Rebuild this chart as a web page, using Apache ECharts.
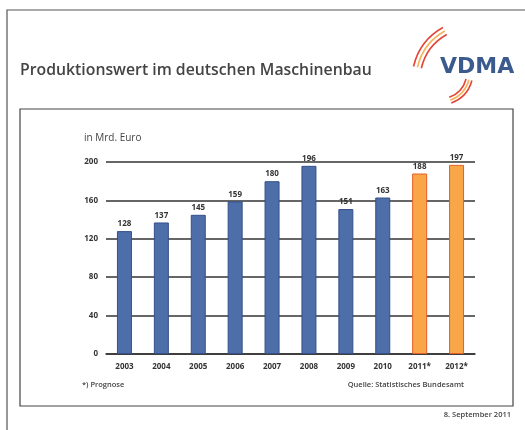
<!DOCTYPE html>
<html>
<head>
<meta charset="utf-8">
<script src="https://cdn.jsdelivr.net/npm/echarts@6/dist/echarts.min.js"></script>
<style>
  html, body { margin: 0; padding: 0; background: #fff; }
  #chart { width: 525px; height: 430px; }
</style>
</head>
<body>
<div id="chart"></div>
<script>
// Daten: Produktionswert in Mrd. Euro
const years = ['2003', '2004', '2005', '2006', '2007', '2008', '2009', '2010', '2011*', '2012*'];
const values = [128, 137, 145, 159, 180, 196, 151, 163, 188, 197];
const forecast = ['2011*', '2012*'];
const yTicks = [0, 40, 80, 120, 160, 200];

const blueBar = { color: '#4d6ea8', borderColor: '#34508a', borderWidth: 1 };
const orangeBar = { color: '#f9a649', borderColor: '#e65f28', borderWidth: 1 };

const chart = echarts.init(document.getElementById('chart'));

// Logo-Bögen (VDMA)
function arc(cx, cy, r, a0, a1, color) {
  return {
    type: 'arc',
    shape: { cx: cx, cy: cy, r: r, startAngle: a0 * Math.PI / 180, endAngle: a1 * Math.PI / 180, clockwise: true },
    style: { stroke: color, fill: null, lineWidth: 1.6 },
    silent: true
  };
}

const option = {
  animation: false,
  grid: { left: 106, right: 50, top: 162, bottom: 76, containLabel: false },
  xAxis: {
    type: 'category',
    data: years,
    axisLine: { show: true, lineStyle: { color: '#333', width: 1.5 } },
    axisTick: { show: false },
    axisLabel: { margin: 9, fontFamily: 'Open Sans', fontWeight: 'bold', fontSize: 8, color: '#333' }
  },
  yAxis: {
    type: 'value',
    min: yTicks[0],
    max: yTicks[yTicks.length - 1],
    interval: yTicks[1] - yTicks[0],
    axisLine: { show: false },
    axisTick: { show: false },
    axisLabel: { margin: 8, fontFamily: 'Open Sans', fontWeight: 'bold', fontSize: 8, color: '#333' },
    splitLine: { lineStyle: { color: '#333', width: 1.5 } }
  },
  series: [{
    type: 'bar',
    barWidth: 15,
    data: values.map((v, i) => ({
      value: v,
      itemStyle: forecast.includes(years[i]) ? orangeBar : blueBar
    })),
    label: {
      show: true,
      position: 'top',
      distance: 3,
      fontFamily: 'Open Sans',
      fontWeight: 'bold',
      fontSize: 8,
      color: '#333'
    }
  }],
  graphic: [
    // äußerer Rahmen
    { type: 'rect', shape: { x: 7, y: 10, width: 530, height: 440 }, style: { fill: null, stroke: '#555', lineWidth: 1.2 }, silent: true },
    // innerer Rahmen
    { type: 'rect', shape: { x: 20, y: 109, width: 493, height: 297 }, style: { fill: null, stroke: '#444', lineWidth: 1.2 }, silent: true },
    {
      type: 'text', left: 20, top: 62,
      style: { text: 'Produktionswert im deutschen Maschinenbau', font: '600 15.8px "Open Sans"', fill: '#444' }
    },
    {
      type: 'text', left: 440, top: 56,
      style: { text: 'VDMA', font: 'bold 22px "DejaVu Sans"', fill: '#3b5b8f' }
    },
    arc(472, 80, 52, 193, 241, '#e2453a'),
    arc(472, 80, 56, 193, 241, '#f6b45a'),
    arc(472, 80, 60, 193, 241, '#e2453a'),
    arc(440, 72, 27, 15, 70, '#e2453a'),
    arc(440, 72, 30, 15, 70, '#f6b45a'),
    arc(440, 72, 33, 15, 70, '#e2453a'),
    {
      type: 'text', left: 84, top: 133,
      style: { text: 'in Mrd. Euro', font: '10px "Open Sans"', fill: '#444' }
    },
    {
      type: 'text', left: 82, top: 381,
      style: { text: '*) Prognose', font: '600 7.5px "Open Sans"', fill: '#444' }
    },
    {
      type: 'text', right: 61, top: 381,
      style: { text: 'Quelle: Statistisches Bundesamt', font: '600 7.5px "Open Sans"', fill: '#444' }
    },
    {
      type: 'text', right: 14, top: 411,
      style: { text: '8. September 2011', font: '600 7.5px "Open Sans"', fill: '#444' }
    }
  ]
};

chart.setOption(option);
</script>
</body>
</html>
